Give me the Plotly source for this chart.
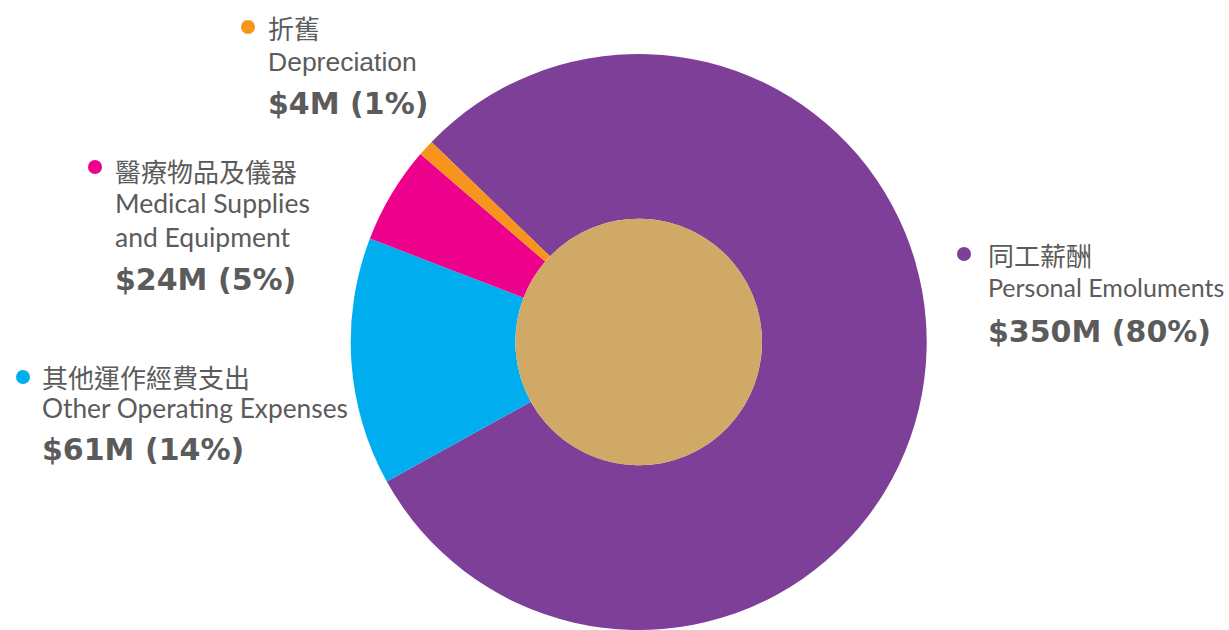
import plotly.graph_objects as go

# Expenditure breakdown
labels_zh = ["同工薪酬", "其他運作經費支出", "醫療物品及儀器", "折舊"]
labels_en = ["Personal Emoluments", "Other Operating Expenses",
             "Medical Supplies<br>and Equipment", "Depreciation"]
values_m = [350, 61, 24, 4]
percents = [80, 14, 5, 1]
colors = ["#7E3F98", "#00AEEF", "#EC008C", "#F7941D"]
centre_colour = "#D1A966"

W, H = 1229, 630
TEXT = "#5B5B5B"


def px(x):
    return x / W


def py(y):
    return 1 - y / H


# ring geometry (pixels)
cx, cy, R, r_in = 638.7, 342.0, 288.0, 123.3

fig = go.Figure()
fig.add_trace(go.Pie(
    values=values_m,
    labels=labels_en,
    marker=dict(colors=colors, line=dict(width=0)),
    sort=False,
    direction="clockwise",
    rotation=-46,
    hole=r_in / R,
    textinfo="none",
    hoverinfo="skip",
    showlegend=False,
    domain=dict(x=[px(cx - R), px(cx + R)], y=[py(cy + R), py(cy - R)]),
))
fig.add_trace(go.Pie(
    values=[1],
    marker=dict(colors=[centre_colour], line=dict(width=0)),
    textinfo="none",
    hoverinfo="skip",
    showlegend=False,
    domain=dict(x=[px(cx - r_in), px(cx + r_in)], y=[py(cy + r_in), py(cy - r_in)]),
))

# label block placement: dot centre, text left edge, line centres, English font
blocks = [
    dict(dot=(964, 254), x=986, zh=254, en=287, val=331, en_font="Lato", en_size=25),
    dict(dot=(23, 377), x=40, zh=376, en=408, val=449, en_font="Lato", en_size=26.3),
    dict(dot=(95, 167), x=113, zh=171, en=220, val=279, en_font="Lato", en_size=26.5),
    dict(dot=(248, 27), x=266, zh=28, en=62, val=104, en_font="Liberation Sans", en_size=26.5),
]

shapes = []
annotations = []
for i, b in enumerate(blocks):
    dx, dy = b["dot"]
    shapes.append(dict(type="circle", xref="paper", yref="paper",
                       x0=px(dx - 7), x1=px(dx + 7), y0=py(dy + 7), y1=py(dy - 7),
                       fillcolor=colors[i], line=dict(width=0)))
    annotations.append(dict(x=px(b["x"]), y=py(b["zh"]), xref="paper", yref="paper",
                            text=labels_zh[i], showarrow=False, xanchor="left", yanchor="middle",
                            font=dict(family="Noto Sans CJK TC", size=26, color=TEXT)))
    annotations.append(dict(x=px(b["x"]), y=py(b["en"]), xref="paper", yref="paper",
                            text=labels_en[i], showarrow=False, xanchor="left", yanchor="middle",
                            align="left",
                            font=dict(family=b["en_font"], size=b["en_size"], color=TEXT)))
    annotations.append(dict(x=px(b["x"]), y=py(b["val"]), xref="paper", yref="paper",
                            text=f"<b>${values_m[i]}M ({percents[i]}%)</b>", showarrow=False,
                            xanchor="left", yanchor="middle",
                            font=dict(family="DejaVu Sans", size=30, color=TEXT)))

fig.update_layout(
    width=W, height=H,
    margin=dict(l=0, r=0, t=0, b=0),
    paper_bgcolor="white",
    plot_bgcolor="white",
    shapes=shapes,
    annotations=annotations,
)

fig.write_html("out.html")
